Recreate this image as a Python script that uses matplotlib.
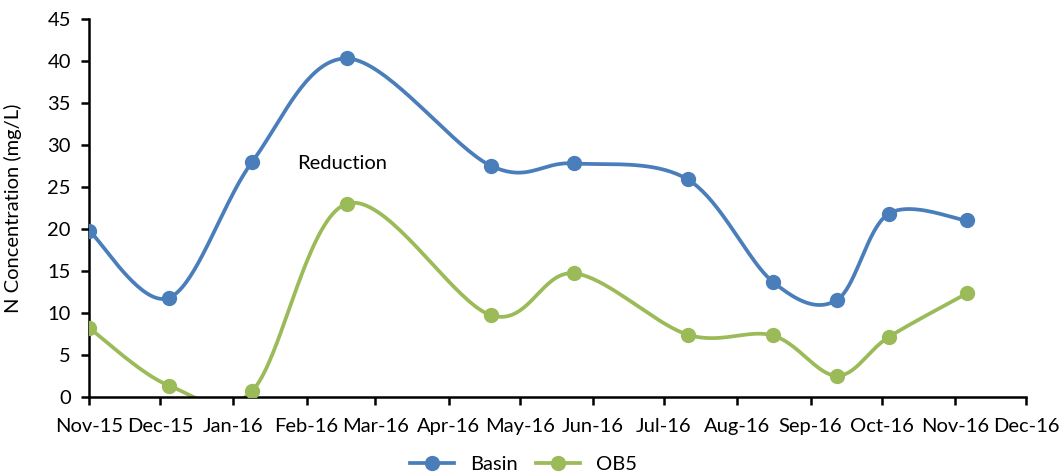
import numpy as np
import matplotlib
matplotlib.use("Agg")
import matplotlib.pyplot as plt
import matplotlib.dates as mdates
import pandas as pd

# ---- data ----
dates = ["2015-11-01", "2015-12-05", "2016-01-09", "2016-02-18", "2016-04-19",
         "2016-05-24", "2016-07-11", "2016-08-16", "2016-09-12", "2016-10-04",
         "2016-11-06"]
basin = [19.8, 11.8, 28.0, 40.3, 27.5, 27.8, 25.9, 13.7, 11.5, 21.8, 21.0]
ob5 = [8.2, 1.3, 0.7, 23.0, 9.7, 14.7, 7.4, 7.3, 2.5, 7.1, 12.3]
series_names = ["Basin", "OB5"]
colors = ["#4A7EBB", "#9BBB59"]

plt.rcParams['font.family'] = ['Lato', 'DejaVu Sans']

x = mdates.date2num(pd.to_datetime(dates))


def smooth(xs, ys, n=40):
    xs = np.asarray(xs, float)
    ys = np.asarray(ys, float)
    px = np.concatenate([[xs[0]], xs, [xs[-1]]])
    py = np.concatenate([[ys[0]], ys, [ys[-1]]])
    ox, oy = [], []
    t = np.linspace(0, 1, n)
    for i in range(1, len(px) - 2):
        p0 = np.array([px[i], py[i]])
        p3 = np.array([px[i + 1], py[i + 1]])
        c1 = p0 + (np.array([px[i + 1], py[i + 1]]) - np.array([px[i - 1], py[i - 1]])) / 6
        c2 = p3 - (np.array([px[i + 2], py[i + 2]]) - np.array([px[i], py[i]])) / 6
        b = ((1 - t) ** 3)[:, None] * p0 + (3 * (1 - t) ** 2 * t)[:, None] * c1 \
            + (3 * (1 - t) * t ** 2)[:, None] * c2 + (t ** 3)[:, None] * p3
        ox.extend(b[:, 0])
        oy.extend(b[:, 1])
    return np.array(ox), np.array(oy)


fig = plt.figure(figsize=(10.62, 4.76), dpi=100)
ax = fig.add_axes([0.0838, 0.1666, 0.8822, 0.7934])

handles = []
for vals, name, c in zip([basin, ob5], series_names, colors):
    sx, sy = smooth(x, vals)
    ax.plot(sx, sy, color=c, lw=2.7, solid_capstyle='round', zorder=2)
    ax.plot(x, vals, 'o', color=c, ms=10, zorder=3)
    h, = ax.plot([], [], '-o', color=c, lw=2.7, ms=10, label=name)
    handles.append(h)

ax.set_xlim(mdates.date2num(pd.Timestamp("2015-11-01")),
            mdates.date2num(pd.Timestamp("2016-12-01")))
ax.set_ylim(0, 45)
ax.set_yticks(np.arange(0, 46, 5))
ax.xaxis.set_major_locator(mdates.MonthLocator())
ax.xaxis.set_major_formatter(mdates.DateFormatter('%b-%y'))

for s in ['top', 'right']:
    ax.spines[s].set_visible(False)
for s in ['left', 'bottom']:
    ax.spines[s].set_linewidth(1.8)
ax.tick_params(axis='both', direction='out', length=6, width=1.8, labelsize=14.5)
ax.tick_params(axis='y', pad=7)
ax.tick_params(axis='x', pad=9)
ax.set_ylabel("N Concentration (mg/L)", fontsize=14.5)
ax.yaxis.set_label_coords(-0.072, 0.5)

ax.text(mdates.date2num(pd.Timestamp("2016-01-28")), 27.8, "Reduction",
        fontsize=14.5, va='center', ha='left')

fig.legend(handles=handles, loc='center', bbox_to_anchor=(0.493, 0.024), ncol=2,
           frameon=False, fontsize=14.5, handlelength=2.2, handletextpad=0.8,
           columnspacing=0.9, borderpad=0.0)

fig.savefig("out.png", dpi=100)
